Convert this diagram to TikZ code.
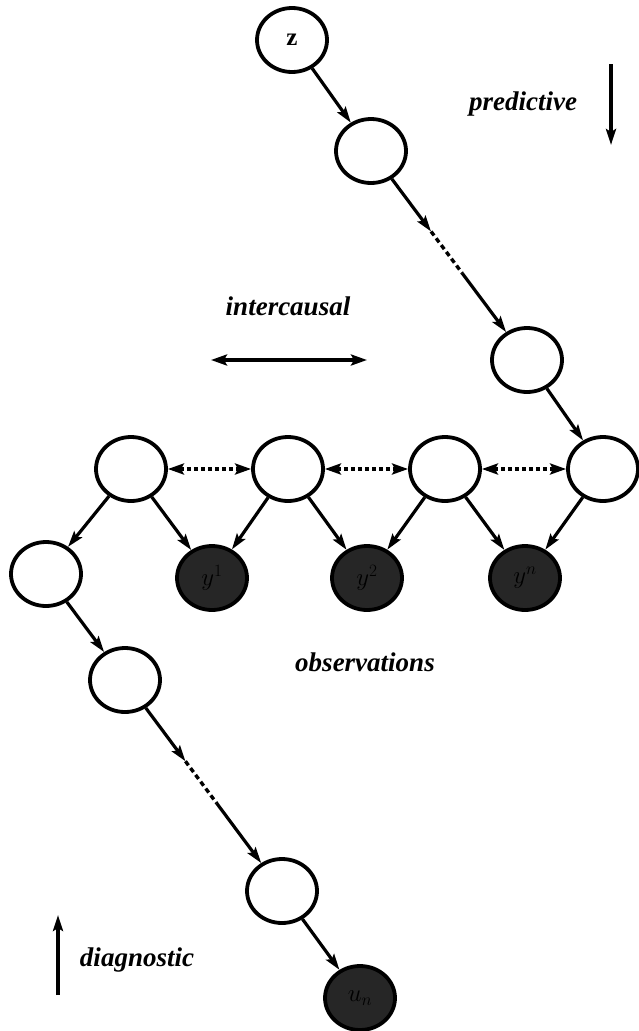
\documentclass[tikz,border=0pt]{standalone}
\usepackage{fontspec}
\setmainfont{Liberation Serif}
\usetikzlibrary{shapes.geometric,arrows.meta,calc}
\tikzset{
  var/.style={ellipse,draw=black,line width=3.8pt,fill=white,minimum width=70pt,minimum height=64pt,inner sep=0pt,font=\fontsize{25}{27}\selectfont\bfseries},
  obs/.style={var,fill=black!85,text=black},
  edge/.style={line width=3.2pt,-{Stealth[length=16pt,width=10pt,inset=3pt]}},
  dots/.style={line width=3.4pt,dash pattern=on 5pt off 3.5pt},
  biarrow/.style={line width=3.2pt,{Stealth[length=16pt,width=11pt,inset=3pt]}-{Stealth[length=16pt,width=11pt,inset=3pt]}},
  rowlink/.style={biarrow,dash pattern=on 4pt off 3pt},
  lbl/.style={font=\fontsize{27}{30}\selectfont\bfseries\itshape}
}
\begin{document}
\begin{tikzpicture}[x=1pt,y=-1pt]
\useasboundingbox (0,0) rectangle (638,1031);
% nodes
\node[var] (z) at (292,40) {z};
\node[var] (n2) at (371,151) {};
\node[var] (n3) at (527,360) {};
\node[var] (A) at (131,469) {};
\node[var] (B) at (288,469) {};
\node[var] (C) at (445,469) {};
\node[var] (D) at (603,469) {};
\node[obs] (S1) at (212,578) {$y^1$};
\node[obs] (S2) at (367,578) {$y^2$};
\node[obs] (S3) at (525,578) {$y^n$};
\node[var] (L1) at (46,574) {};
\node[var] (L2) at (125,680) {};
\node[var] (L3) at (282,891) {};
\node[obs] (U) at (360,998) {$u_n$};
% labels
\node[lbl] (tpred) at (523,104) {predictive};
\node[lbl] (tinter) at (288,306) {intercausal};
\node[lbl] (tobs) at (365,662) {observations};
\node[lbl] (tdiag) at (137,960) {diagnostic};
% direction arrows
\coordinate (p1) at (611,64);
\coordinate (p2) at (611,145);
\draw[edge] (p1) -- (p2);
\coordinate (d1) at (58,995);
\coordinate (d2) at (58,915);
\draw[edge] (d1) -- (d2);
\coordinate (i1) at (211,360);
\coordinate (i2) at (367,360);
\draw[biarrow] (i1) -- (i2);
% top chain
\draw[edge] (z) -- (n2);
\coordinate (t1) at ($(n2)!0.385!(n3)$);
\coordinate (t2) at ($(n2)!0.585!(n3)$);
\draw[edge] (n2) -- (t1);
\draw[dots] (t1) -- (t2);
\draw[edge] (t2) -- (n3);
\draw[edge] (n3) -- (D);
% row
\draw[rowlink] (A) -- (B);
\draw[rowlink] (B) -- (C);
\draw[rowlink] (C) -- (D);
\draw[edge] (A) -- (L1);
\draw[edge] (A) -- (S1);
\draw[edge] (B) -- (S1);
\draw[edge] (B) -- (S2);
\draw[edge] (C) -- (S2);
\draw[edge] (C) -- (S3);
\draw[edge] (D) -- (S3);
% left chain
\draw[edge] (L1) -- (L2);
\coordinate (b1) at ($(L2)!0.385!(L3)$);
\coordinate (b2) at ($(L2)!0.585!(L3)$);
\draw[edge] (L2) -- (b1);
\draw[dots] (b1) -- (b2);
\draw[edge] (b2) -- (L3);
\draw[edge] (L3) -- (U);
\end{tikzpicture}
\end{document}
